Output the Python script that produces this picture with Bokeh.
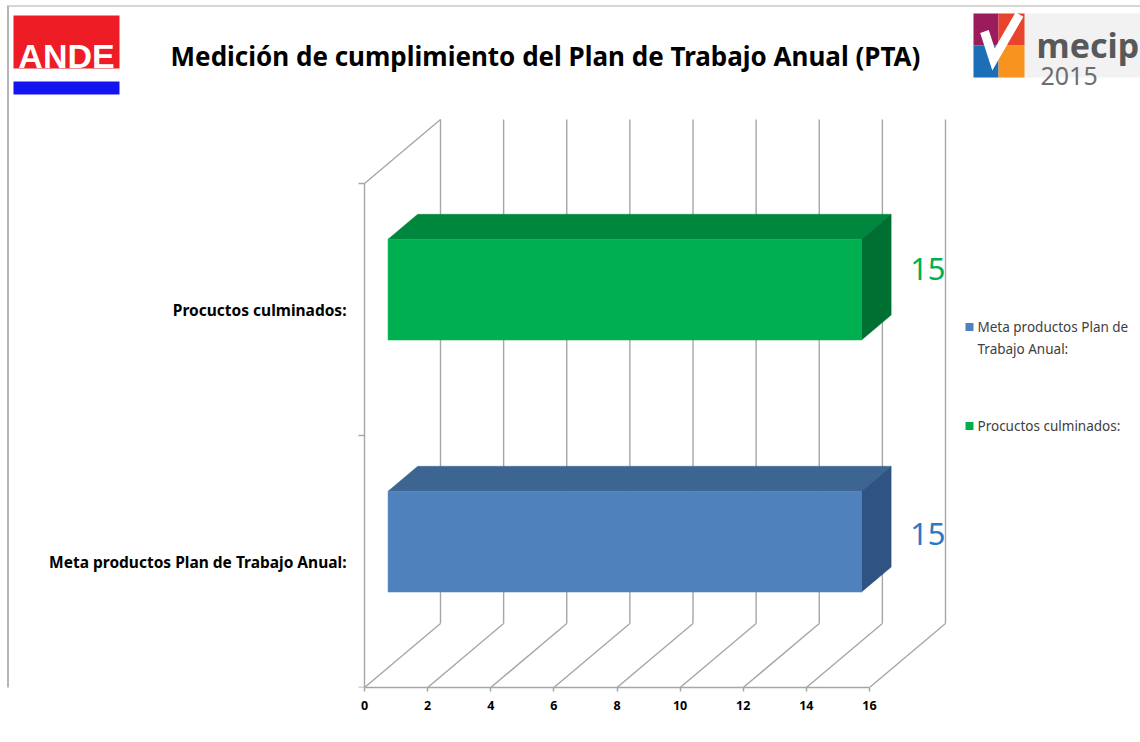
import textwrap
from bokeh.plotting import figure
from bokeh.models import Range1d, FixedTicker
from bokeh.core.properties import value
from bokeh.embed import file_html
from bokeh.resources import INLINE

# ---------------- data ----------------
chart_title = "Medición de cumplimiento del Plan de Trabajo Anual (PTA)"
categories = ["Meta productos Plan de Trabajo Anual:", "Procuctos culminados:"]
values = [15, 15]
x_ticks = [0, 2, 4, 6, 8, 10, 12, 14, 16]

# ---------------- style ----------------
front_colors = ["#4f81bd", "#00b050"]
top_colors = ["#3d6592", "#00873e"]
side_colors = ["#2f5382", "#006f32"]
label_colors = ["#2b79c2", "#00b050"]
label_dy = [0.11, 0.16]          # value-label vertical nudge (category units)
wall_color = "#a6a6a6"
FONT = value("Noto Sans")

W, H = 1140, 742
PX_X0, PX_Y0 = 364, 687          # pixel of value 0 / category baseline
S = 31.5625                      # px per value unit
U = 252.0                        # px per category band
DX, DY = 76 / S, 64 / U          # 3D depth offset in data units
F0, F1 = 0.31, 0.70              # bar depth span (fraction of depth)
HB = 0.2                         # half bar thickness (category units)


def X(px):
    return (px - PX_X0) / S


def Y(py):
    return (PX_Y0 - py) / U


p = figure(width=W, height=H,
           x_range=Range1d(X(0), X(W)), y_range=Range1d(0, Y(0)),
           output_backend="svg", toolbar_location=None, y_axis_location=None,
           min_border_left=0, min_border_right=0, min_border_top=0,
           min_border_bottom=H - PX_Y0, title=None)
p.outline_line_color = None
p.grid.visible = False
p.background_fill_color = "white"
p.border_fill_color = "white"

# ---------------- x axis ----------------
ax = p.xaxis[0]
ax.ticker = FixedTicker(ticks=x_ticks)
ax.bounds = (x_ticks[0], x_ticks[-1])
ax.axis_line_color = wall_color
ax.axis_line_width = 1.5
ax.major_tick_line_color = wall_color
ax.major_tick_line_width = 1.5
ax.major_tick_out = 4
ax.major_tick_in = 0
ax.minor_tick_out = 0
ax.minor_tick_in = 0
ax.major_label_text_font = "Noto Sans"
ax.major_label_text_font_style = "bold"
ax.major_label_text_font_size = "12.5px"
ax.major_label_text_color = "#000000"
ax.major_label_standoff = 9

# slide border lines
p.segment(x0=[X(7.5)], y0=[Y(5)], x1=[X(7.5)], y1=[Y(742)], line_color="#b4b4b4", line_width=2)
p.segment(x0=[X(7.5)], y0=[Y(5.5)], x1=[X(1140)], y1=[Y(5.5)], line_color="#c8c8c8", line_width=1.5)

# ---------------- 3D walls ----------------
ncat = len(categories)
# back wall gridlines
p.segment(x0=[t + DX for t in x_ticks], y0=[DY] * len(x_ticks),
          x1=[t + DX for t in x_ticks], y1=[ncat + DY] * len(x_ticks),
          line_color=wall_color, line_width=1.4)
# floor diagonals
p.segment(x0=x_ticks, y0=[0] * len(x_ticks),
          x1=[t + DX for t in x_ticks], y1=[DY] * len(x_ticks),
          line_color=wall_color, line_width=1.4)
# left wall: front edge + top edge
p.segment(x0=[x_ticks[0], x_ticks[0]], y0=[0, ncat],
          x1=[x_ticks[0], x_ticks[0] + DX], y1=[ncat, ncat + DY],
          line_color=wall_color, line_width=1.4)
# category tick marks
cat_bounds = list(range(ncat + 1))
p.segment(x0=[x_ticks[0] - 6 / S] * len(cat_bounds), y0=cat_bounds,
          x1=[x_ticks[0]] * len(cat_bounds), y1=cat_bounds,
          line_color=wall_color, line_width=1.4)

# ---------------- bars ----------------
for i, (cat, v) in enumerate(zip(categories, values)):
    uc = i + 0.5
    x0f, x1f = x_ticks[0] + F0 * DX, v + F0 * DX
    x0b, x1b = x_ticks[0] + F1 * DX, v + F1 * DX
    yb_f, yt_f = uc - HB + F0 * DY, uc + HB + F0 * DY
    yb_b, yt_b = uc - HB + F1 * DY, uc + HB + F1 * DY
    # top face
    p.patch(x=[x0f, x1f, x1b, x0b], y=[yt_f, yt_f, yt_b, yt_b],
            fill_color=top_colors[i], line_color=top_colors[i], line_width=0.5)
    # side face
    p.patch(x=[x1f, x1b, x1b, x1f], y=[yb_f, yb_b, yt_b, yt_f],
            fill_color=side_colors[i], line_color=side_colors[i], line_width=0.5)
    # front face
    p.quad(left=[x0f], right=[x1f], bottom=[yb_f], top=[yt_f],
           fill_color=front_colors[i], line_color=front_colors[i], line_width=0.5)
    # value label
    p.text(x=[x1b + 19 / S], y=[uc + label_dy[i]], text=[str(v)],
           text_font=FONT, text_font_size="31px", text_color=label_colors[i],
           text_align="left", text_baseline="middle")
    # category label
    p.text(x=[x_ticks[0] - 18 / S], y=[uc], text=[cat],
           text_font=FONT, text_font_style="bold", text_font_size="15.5px",
           text_color="#000000", text_align="right", text_baseline="middle")

# ---------------- legend ----------------
leg_y = [326.5, 425.5]
for i, cat in enumerate(categories):
    p.rect(x=[X(969)], y=[Y(leg_y[i])], width=8, height=8,
           width_units="screen", height_units="screen",
           fill_color=front_colors[i], line_color=None)
    lines = textwrap.wrap(cat, 22)
    p.text(x=[X(977)] * len(lines), y=[Y(leg_y[i] + 22 * k) for k in range(len(lines))],
           text=lines, text_font=FONT, text_font_size="13.5px",
           text_color="#404040", text_align="left", text_baseline="middle")

# ---------------- title ----------------
p.text(x=[X(545)], y=[Y(55)], text=[chart_title], text_font=FONT,
       text_font_style="bold", text_font_size="26px", text_color="#000000",
       text_align="center", text_baseline="alphabetic")

# ---------------- ANDE logo ----------------
p.quad(left=[X(13)], right=[X(119)], top=[Y(15)], bottom=[Y(68)],
       fill_color="#ee1c25", line_color=None)
p.quad(left=[X(13)], right=[X(119)], top=[Y(81)], bottom=[Y(94)],
       fill_color="#1414f0", line_color=None)
p.text(x=[X(66)], y=[Y(55)], text=["ANDE"],
       text_font=value("Liberation Sans"),
       text_font_style="bold", text_font_size="34px", text_color="white",
       text_align="center", text_baseline="alphabetic")

# ---------------- MECIP logo ----------------
p.quad(left=[X(973)], right=[X(1140)], top=[Y(13)], bottom=[Y(77)],
       fill_color="#f2f2f2", line_color=None)
p.quad(left=[X(973), X(998), X(973), X(998)], right=[X(998), X(1024), X(998), X(1024)],
       top=[Y(13), Y(13), Y(45), Y(45)], bottom=[Y(45), Y(45), Y(77), Y(77)],
       fill_color=["#9b1c5c", "#e8432d", "#1c6fb6", "#f7931e"], line_color=None)
p.line(x=[X(984), X(993), X(1019)], y=[Y(31), Y(59), Y(14)],
       line_color="white", line_width=9, line_join="miter")
p.text(x=[X(1036)], y=[Y(44)], text=["mecip"], text_font=FONT,
       text_font_style="bold", text_font_size="34px", text_color="#58595b",
       text_align="left", text_baseline="alphabetic")
p.text(x=[X(1040)], y=[Y(75)], text=["2015"], text_font=FONT,
       text_font_size="25px", text_color="#6d6e70",
       text_align="left", text_baseline="alphabetic")

open("out.html", "w").write(file_html(p, INLINE))
